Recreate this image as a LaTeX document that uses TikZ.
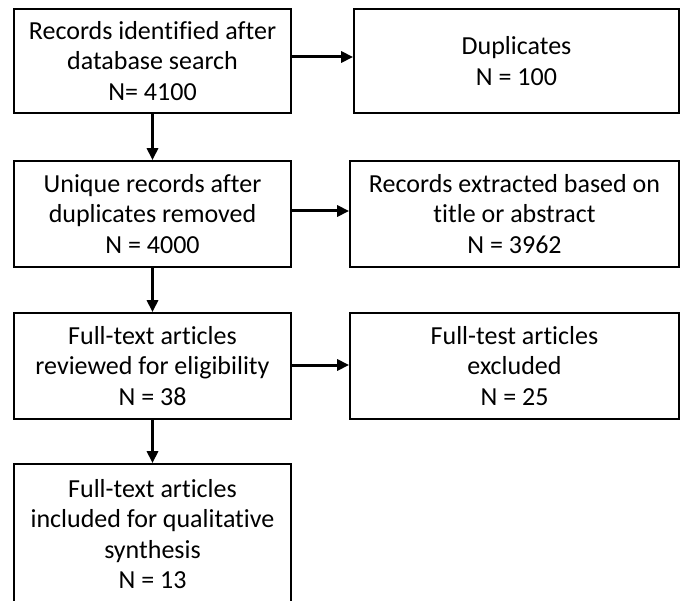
\documentclass[tikz,border=0pt]{standalone}
\usepackage{fontspec}
\setmainfont[Ligatures=NoCommon]{Carlito}
\usetikzlibrary{arrows.meta}
\begin{document}
\begin{tikzpicture}[x=1pt,y=-1pt,
  box/.style={draw, line width=1.7pt, align=center, inner sep=0pt,
    font=\fontsize{26}{30.5}\selectfont},
  flow/.style={line width=3pt, -{Triangle[length=12pt,width=11pt]}}]
\useasboundingbox (0,0) rectangle (682,601);
\clip (0,0) rectangle (682,601);
% left column: main flow
\node[box, minimum width=277pt, minimum height=104pt] (rec) at (152.5,61)
  {Records identified after\\database search\\N= 4100};
\node[box, minimum width=277pt, minimum height=106pt] (uniq) at (152.5,214)
  {Unique records after\\duplicates removed\\N = 4000};
\node[box, minimum width=277pt, minimum height=106pt] (full) at (152.5,366)
  {Full-text articles\\reviewed for eligibility\\N = 38};
\node[box, minimum width=277pt, minimum height=140pt] (incl) at (152.5,534)
  {Full-text articles\\included for qualitative\\synthesis\\N = 13};
% right column: exclusions
\node[box, minimum width=325pt, minimum height=104pt] (dup) at (516.5,61)
  {Duplicates\\N = 100};
\node[box, minimum width=329pt, minimum height=106pt] (extr) at (514.5,214)
  {Records extracted based on\\title or abstract\\N = 3962};
\node[box, minimum width=329pt, minimum height=106pt] (excl) at (514.5,366)
  {Full-test articles\\excluded\\N = 25};
% connectors
\draw[flow] (rec.south) -- (uniq.north);
\draw[flow] (uniq.south) -- (full.north);
\draw[flow] (full.south) -- (incl.north);
\draw[flow] ([yshift=4pt]rec.east) -- ([yshift=4pt]dup.west);
\draw[flow] ([yshift=3pt]uniq.east) -- ([yshift=3pt]extr.west);
\draw[flow] ([yshift=1pt]full.east) -- ([yshift=1pt]excl.west);
\end{tikzpicture}
\end{document}
